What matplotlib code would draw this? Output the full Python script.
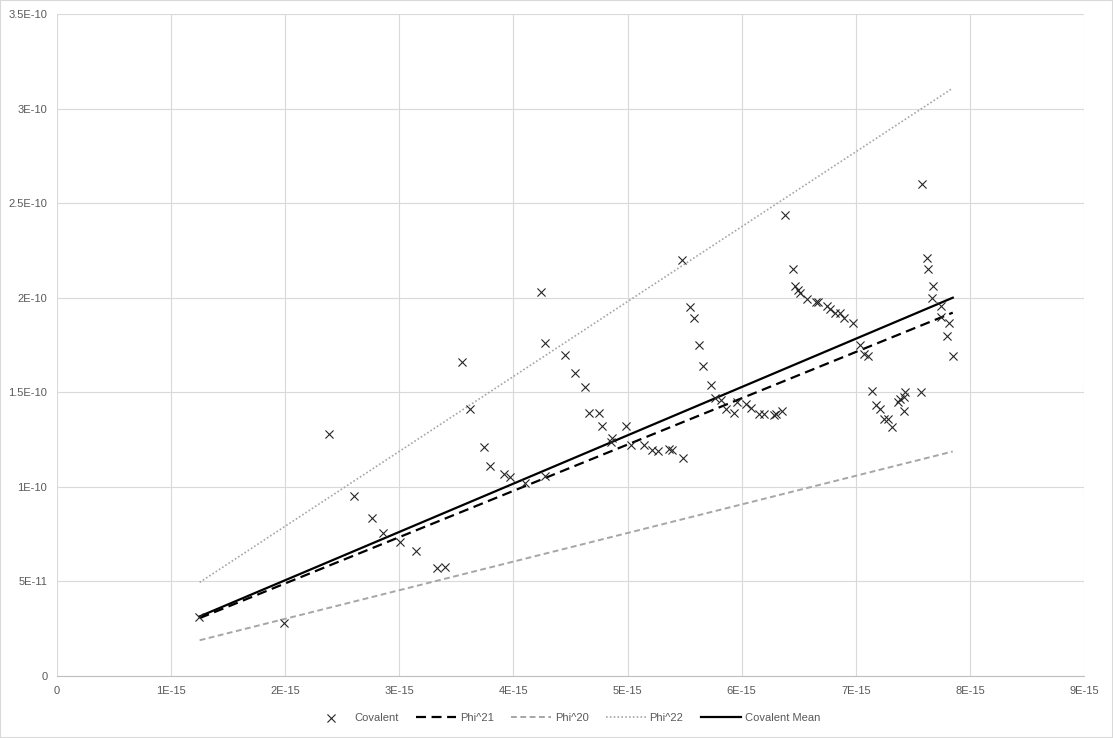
import numpy as np
import matplotlib
matplotlib.use("Agg")
import matplotlib.pyplot as plt

# scatter values (x in 1E-15, y in 1E-10)
cov_x = [1.245, 1.99, 2.38, 2.60, 2.76, 2.86, 3.01, 3.15, 3.33, 3.40,
         3.55, 3.62, 3.74, 3.795, 3.92, 3.97, 4.10, 4.245, 4.28, 4.28,
         4.45, 4.54, 4.63, 4.665, 4.75, 4.78, 4.855, 4.86, 4.99, 5.03,
         5.14, 5.215, 5.27, 5.36, 5.39, 5.48, 5.49, 5.55, 5.58, 5.63,
         5.66, 5.73, 5.77, 5.82, 5.86, 5.93, 5.96, 6.035, 6.08, 6.15,
         6.20, 6.28, 6.30, 6.35, 6.38, 6.45, 6.47, 6.49, 6.51, 6.57,
         6.65, 6.67, 6.75, 6.775, 6.82, 6.86, 6.90, 6.98, 7.04, 7.07,
         7.11, 7.14, 7.18, 7.21, 7.25, 7.28, 7.32, 7.37, 7.39, 7.42,
         7.435, 7.42, 7.575, 7.58, 7.62, 7.63, 7.67, 7.68, 7.745, 7.75,
         7.80, 7.815, 7.85]
cov_y = [0.310, 0.279, 1.278, 0.954, 0.837, 0.757, 0.707, 0.659, 0.571, 0.578,
         1.66, 1.41, 1.209, 1.108, 1.068, 1.050, 1.018, 2.028, 1.760, 1.056,
         1.695, 1.600, 1.527, 1.389, 1.389, 1.320, 1.235, 1.256, 1.320, 1.219,
         1.219, 1.196, 1.188, 1.200, 1.196, 2.197, 1.154, 1.949, 1.894, 1.748,
         1.637, 1.536, 1.468, 1.457, 1.413, 1.389, 1.447, 1.437, 1.415, 1.385,
         1.385, 1.380, 1.385, 1.400, 2.435, 2.15, 2.063, 2.042, 2.026, 1.991,
         1.975, 1.975, 1.958, 1.94, 1.920, 1.917, 1.892, 1.867, 1.751, 1.702,
         1.691, 1.505, 1.434, 1.409, 1.357, 1.357, 1.318, 1.450, 1.462, 1.476,
         1.500, 1.399, 1.500, 2.60, 2.208, 2.15, 1.996, 2.060, 1.897, 1.958,
         1.796, 1.867, 1.690]

# line endpoints
line_x = [1.25, 7.85]
phi21_y = [0.306, 1.921]
phi20_y = [0.189, 1.187]
phi22_y = [0.495, 3.108]
mean_y = [0.315, 2.00]

xt_labels = ["0", "1E-15", "2E-15", "3E-15", "4E-15", "5E-15", "6E-15", "7E-15", "8E-15", "9E-15"]
yt_labels = ["0", "5E-11", "1E-10", "1.5E-10", "2E-10", "2.5E-10", "3E-10", "3.5E-10"]

plt.rcParams['font.family'] = ['Liberation Sans', 'DejaVu Sans']

fig = plt.figure(figsize=(11.13, 7.38), dpi=100)
ax = fig.add_axes([57/1113, 1-676/738, (1084-57)/1113, (676-14)/738])

X = np.array(cov_x) * 1e-15
Y = np.array(cov_y) * 1e-10
lx = np.array(line_x) * 1e-15

ax.scatter(X, Y, marker='x', s=34, color='#262626', linewidths=0.8, label='Covalent', zorder=4)
ax.plot(lx, np.array(phi21_y) * 1e-10, color='black', lw=1.6, dashes=(4.5, 2.5), label='Phi^21', zorder=3)
ax.plot(lx, np.array(phi20_y) * 1e-10, color='#a6a6a6', lw=1.4, dashes=(3, 1.8), label='Phi^20', zorder=3)
ax.plot(lx, np.array(phi22_y) * 1e-10, color='#a6a6a6', lw=1.2, dashes=(1, 1.3), label='Phi^22', zorder=3)
ax.plot(lx, np.array(mean_y) * 1e-10, color='black', lw=1.6, label='Covalent Mean', zorder=3)

ax.set_xlim(0, 9e-15)
ax.set_ylim(0, 3.5e-10)
ax.set_xticks(np.arange(10) * 1e-15)
ax.set_xticklabels(xt_labels)
ax.set_yticks(np.arange(8) * 0.5e-10)
ax.set_yticklabels(yt_labels)
ax.tick_params(length=0, labelsize=8, colors='#595959', pad=7)
ax.grid(True, color='#d9d9d9', lw=0.8)
ax.set_axisbelow(True)
for s in ['top', 'right', 'left']:
    ax.spines[s].set_visible(False)
ax.spines['bottom'].set_color('#bfbfbf')

leg = fig.legend(loc='center', bbox_to_anchor=(0.508, 1-718/738), ncol=5, frameon=False,
                 fontsize=8, handlelength=3.6, columnspacing=1.6, handletextpad=0.3)
for t in leg.get_texts():
    t.set_color('#595959')

fig.patches.append(plt.Rectangle((0, 0), 1, 1, transform=fig.transFigure, fill=False,
                                 edgecolor='#d9d9d9', lw=1.5))

fig.savefig('out.png', dpi=100)
